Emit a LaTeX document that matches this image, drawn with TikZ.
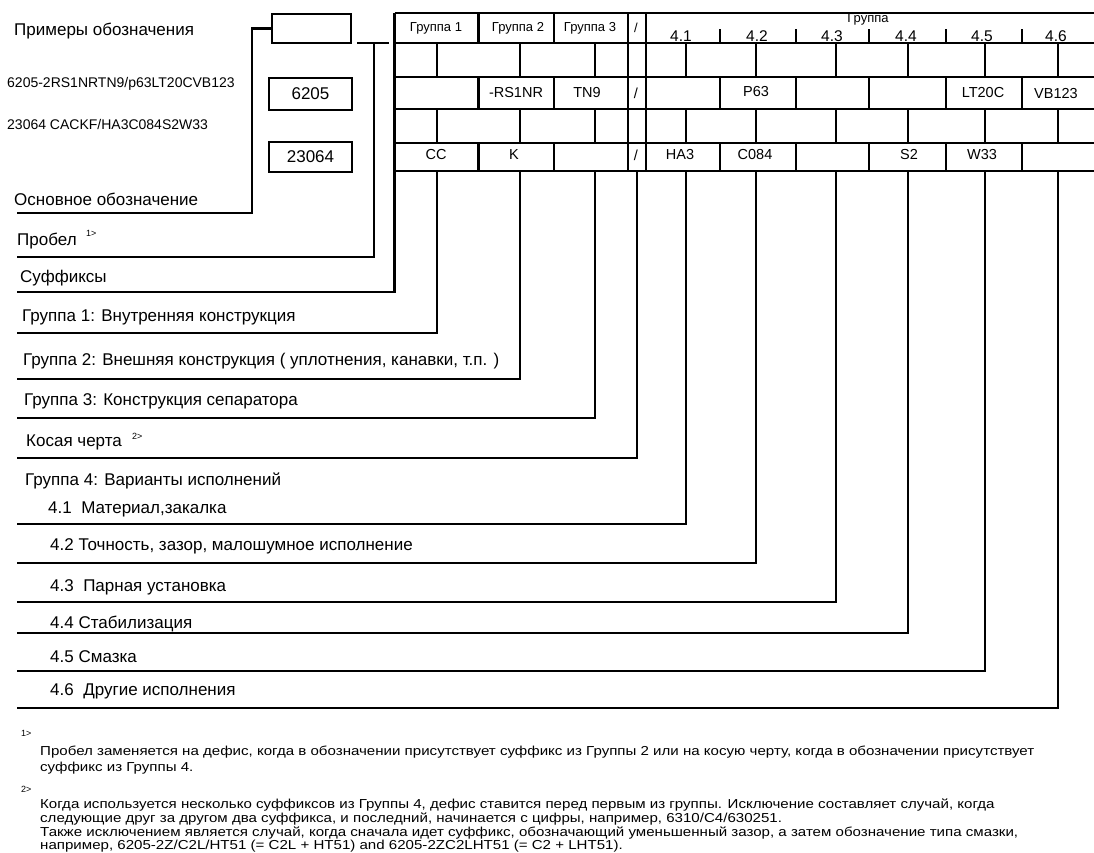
\documentclass[tikz,border=0pt]{standalone}
\usepackage{fontspec}
\setmainfont{Liberation Sans}
\newfontfamily\notefont[FakeStretch=1.16]{Liberation Sans}
\usepackage{tikz}
\usetikzlibrary{positioning}

\tikzset{
  rule/.style={line width=2.6pt},
  lbl/.style={anchor=west, inner sep=0pt, font=\fontsize{17}{19}\selectfont},
  cell/.style={inner sep=0pt, font=\fontsize{14.5}{16}\selectfont},
  hcell/.style={inner sep=0pt, font=\fontsize{13}{14}\selectfont},
  hnum/.style={inner sep=0pt, font=\fontsize{15.5}{17}\selectfont},
  ex/.style={anchor=west, inner sep=0pt, font=\fontsize{14}{16}\selectfont},
  note/.style={anchor=west, inner sep=0pt, font=\notefont\fontsize{13}{15}\selectfont},
  supmark/.style={anchor=west, inner sep=0pt, font=\fontsize{9}{10}\selectfont},
  codebox/.style={draw, line width=2.6pt, inner sep=0pt, minimum width=83pt, font=\fontsize{17}{19}\selectfont},
}

\begin{document}
\begin{tikzpicture}[x=1pt, y=-1pt]
  \useasboundingbox (0,0) rectangle (1094,852);

  % examples
  \node[lbl] (ttl) at (14,31) {Примеры обозначения};
  \node[ex] (ex1) at (7,84) {6205-2RS1NRTN9/p63LT20CVB123};
  \node[ex] (ex2) at (7,124) {23064 CACKF/HA3C084S2W33};
  \node[codebox, minimum width=79pt, minimum height=29pt] (blank) at (311.5,28.5) {};
  \node[codebox, minimum height=32pt] (b6205) at (310.5,94) {6205};
  \node[codebox, minimum height=30pt] (b23064) at (310.5,157) {23064};

  % table grid
  \foreach \y in {13,43,77,109,143,171}
    \draw[rule] (394.5,\y) -- (1094,\y);
  \foreach \x in {478.5,554,628,646}
    \draw[rule] (\x,13) -- (\x,43);
  \foreach \x in {720,796,869,946,1022}
    \draw[rule] (\x,29) -- (\x,43);
  \foreach \x in {437,520,595,628,646,686,756,836,908,985,1058} {
    \draw[rule] (\x,43) -- (\x,77);
    \draw[rule] (\x,109) -- (\x,143);
  }
  \foreach \x in {478.5,554,628,646,720,796,869,946,1022} {
    \draw[rule] (\x,77) -- (\x,109);
    \draw[rule] (\x,143) -- (\x,171);
  }

  % header
  \node[hcell] (h1) at (436,28) {Группа 1};
  \node[hcell] (h2) at (518,28) {Группа 2};
  \node[hcell] (h3) at (590,28) {Группа 3};
  \node[hcell] (hs) at (636,28) {/};
  \node[hcell] (h4) at (868,19) {Группа};
  \node[hnum] (h41) at (681,36) {4.1};
  \node[hnum] (h42) at (757,36) {4.2};
  \node[hnum] (h43) at (832,36) {4.3};
  \node[hnum] (h44) at (906,36) {4.4};
  \node[hnum] (h45) at (982,36) {4.5};
  \node[hnum] (h46) at (1056,36) {4.6};

  % first example
  \node[cell] (a2) at (516,93) {-RS1NR};
  \node[cell] (a3) at (587,93) {TN9};
  \node[cell] (as) at (636,93) {/};
  \node[cell] (a42) at (756,92) {P63};
  \node[cell] (a45) at (983,93) {LT20C};
  \node[cell] (a46) at (1056,94) {VB123};

  % second example
  \node[cell] (c1) at (436,155) {CC};
  \node[cell] (c2) at (514,155) {K};
  \node[cell] (cs) at (636,155) {/};
  \node[cell] (c41) at (680,155) {HA3};
  \node[cell] (c42) at (755,155) {C084};
  \node[cell] (c44) at (909,155) {S2};
  \node[cell] (c45) at (982,155) {W33};

  % labels
  \node[lbl] (osn) at (14,199) {Основное обозначение};
  \node[lbl] (prob) at (17,241) {Пробел};
  \node[supmark] (m1) at (86,233) {1>};
  \node[lbl] (suf) at (20,278) {Суффиксы};
  \node[lbl] (g1) at (22,317) {Группа 1: Внутренняя конструкция};
  \node[lbl] (g2) at (23,361) {Группа 2: Внешняя конструкция ( уплотнения, канавки, т.п. )};
  \node[lbl] (g3) at (24,401) {Группа 3: Конструкция сепаратора};
  \node[lbl] (sl) at (26,442) {Косая черта};
  \node[supmark] (m2) at (132,436) {2>};
  \node[lbl] (g4) at (25,481) {Группа 4: Варианты исполнений};
  \node[lbl] (g41) at (48,509) {4.1\ \ Материал,закалка};
  \node[lbl] (g42) at (50,546) {4.2\ Точность, зазор, малошумное исполнение};
  \node[lbl] (g43) at (50,587) {4.3\ \ Парная установка};
  \node[lbl] (g44) at (50,624) {4.4\ Стабилизация};
  \node[lbl] (g45) at (50,657) {4.5\ Смазка};
  \node[lbl] (g46) at (50,691) {4.6\ \ Другие исполнения};

  % line ends
  \coordinate (kOsn) at (252,28.5);
  \coordinate (pA) at (357,43);
  \coordinate (pB) at (389,43);
  \coordinate (pT) at (374,43);
  \coordinate (tTop) at (394.5,13);
  \coordinate (lOsn) at (17,213);
  \coordinate (lProb) at (17,257);
  \coordinate (lSuf) at (17,292);
  \coordinate (lG1) at (17,333);
  \coordinate (lG2) at (17,379);
  \coordinate (lG3) at (17,418);
  \coordinate (lSl) at (17,458);
  \coordinate (lG41) at (17,524);
  \coordinate (lG42) at (17,563);
  \coordinate (lG43) at (17,602);
  \coordinate (lG44) at (17,633);
  \coordinate (lG45) at (17,671);
  \coordinate (lG46) at (17,708);
  \coordinate (dG1) at (437,171);
  \coordinate (dG2) at (520,171);
  \coordinate (dG3) at (595,171);
  \coordinate (dSl) at (637,171);
  \coordinate (dG41) at (686,171);
  \coordinate (dG42) at (756,171);
  \coordinate (dG43) at (836,171);
  \coordinate (dG44) at (908,171);
  \coordinate (dG45) at (985,171);
  \coordinate (dG46) at (1058,171);

  % connectors
  \draw[rule] (lOsn) -| (kOsn) -- (blank.west);
  \draw[rule] (pA) -- (pB);
  \draw[rule] (lProb) -| (pT);
  \draw[rule] (lSuf) -| (tTop);
  \draw[rule] (lG1) -| (dG1);
  \draw[rule] (lG2) -| (dG2);
  \draw[rule] (lG3) -| (dG3);
  \draw[rule] (lSl) -| (dSl);
  \draw[rule] (lG41) -| (dG41);
  \draw[rule] (lG42) -| (dG42);
  \draw[rule] (lG43) -| (dG43);
  \draw[rule] (lG44) -| (dG44);
  \draw[rule] (lG45) -| (dG45);
  \draw[rule] (lG46) -| (dG46);

  % footnotes
  \node[supmark] (n1) at (21,733) {1>};
  \node[note] (n1a) at (40,752) {Пробел заменяется на дефис, когда в обозначении присутствует суффикс из Группы 2 или на косую черту, когда в обозначении присутствует};
  \node[note] (n1b) at (40,768) {суффикс из Группы 4.};
  \node[supmark] (n2) at (21,789) {2>};
  \node[note] (n2a) at (40,805) {Когда используется несколько суффиксов из Группы 4, дефис ставится перед первым из группы. Исключение составляет случай, когда};
  \node[note] (n2b) at (40,819) {следующие друг за другом два суффикса, и последний, начинается с цифры, например, 6310/C4/630251.};
  \node[note] (n2c) at (40,833) {Также исключением является случай, когда сначала идет суффикс, обозначающий уменьшенный зазор, а затем обозначение типа смазки,};
  \node[note] (n2d) at (40,846) {например, 6205-2Z/C2L/HT51 (= C2L + HT51) and 6205-2ZC2LHT51 (= C2 + LHT51).};
\end{tikzpicture}
\end{document}
